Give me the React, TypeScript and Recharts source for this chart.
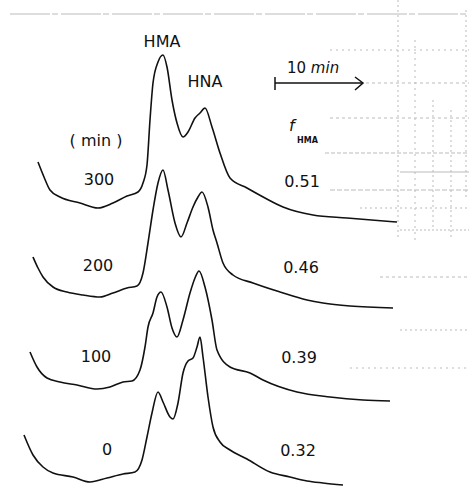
import React from "react";
import { LineChart, Line, XAxis, YAxis } from "recharts";

// Chromatogram traces: [retention position, detector depth]
const run300: [number, number][] = [
  [38,162],[44,177],[50,190],[60,197],[80,203],[98,208],[113,203],[127,196],[138,192],[143,183],
  [147,165],[150,120],[153,83],[158,62],[163,55],[167,67],[172,100],[177,123],[183,137],[188,132],
  [195,118],[200,113],[205,108],[212,127],[220,153],[230,178],[247,188],[265,198],[283,207],[313,215],
  [347,218],[397,222],
];
const run200: [number, number][] = [
  [33,257],[38,268],[43,277],[53,287],[67,292],[83,295],[100,297],[113,293],[127,288],[137,286],
  [143,273],[148,243],[153,210],[158,183],[163,170],[168,190],[175,223],[181,237],[187,223],[193,207],
  [198,197],[202,192],[208,207],[213,230],[217,243],[223,263],[233,275],[253,283],[280,292],[307,300],
  [323,303],[350,306],[393,308],
];
const run100: [number, number][] = [
  [30,352],[37,367],[47,378],[60,382],[77,385],[97,389],[110,387],[123,382],[132,381],[140,370],
  [145,347],[148,327],[153,313],[157,297],[161,292],[167,307],[172,328],[177,337],[183,320],[190,293],
  [195,278],[199,271],[205,287],[212,320],[217,350],[230,367],[250,373],[263,380],[297,392],[330,397],
  [363,400],[390,401],
];
const run0: [number, number][] = [
  [24,435],[33,455],[43,467],[53,473],[73,477],[90,482],[107,478],[123,474],[135,472],[142,460],
  [147,437],[152,413],[158,392],[163,402],[170,417],[173,419],[178,403],[183,373],[188,361],[193,358],
  [197,347],[200,337],[203,357],[208,397],[213,427],[220,442],[230,450],[247,459],[270,472],[290,477],
  [307,481],[323,483],[343,485],
];

const runTimes = ["300", "200", "100", "0"];
const fHMA = ["0.51", "0.46", "0.39", "0.32"];
const peakNames = ["HMA", "HNA"];

const toRows = (pts: [number, number][]) => pts.map(([x, y]) => ({ x, y }));
const series = [run300, run200, run100, run0].map(toRows);

const W = 469;
const H = 486;
const FONT = "'DejaVu Sans', sans-serif";

const runLabelPos = [
  { x: 99, y: 185 },
  { x: 98, y: 271 },
  { x: 96, y: 362 },
  { x: 107, y: 455 },
];
const fLabelPos = [
  { x: 302, y: 187 },
  { x: 301, y: 273 },
  { x: 299, y: 363 },
  { x: 298, y: 456 },
];

export default function App() {
  return (
    <div style={{ position: "absolute", left: 0, top: 0, width: W, height: H, background: "#fff" }}>
      <svg width={W} height={H} style={{ position: "absolute", left: 0, top: 0 }}>
        {/* faint scan artifacts */}
        <g stroke="#bbb" strokeWidth={1} fill="none">
          <line x1={10} y1={14} x2={469} y2={14} strokeDasharray="40 2 6 3" />
          <line x1={330} y1={50} x2={469} y2={50} strokeDasharray="2 4" />
          <line x1={360} y1={83} x2={469} y2={83} strokeDasharray="3 3" />
          <line x1={330} y1={118} x2={469} y2={118} strokeDasharray="3 3" />
          <line x1={325} y1={153} x2={469} y2={153} strokeDasharray="4 2" />
          <line x1={400} y1={172} x2={469} y2={172} />
          <line x1={330} y1={190} x2={469} y2={190} strokeDasharray="5 2" />
          <line x1={360} y1={208} x2={469} y2={208} strokeDasharray="2 3" />
          <line x1={400} y1={230} x2={469} y2={230} strokeDasharray="2 2" />
          <line x1={380} y1={277} x2={469} y2={277} strokeDasharray="3 3" />
          <line x1={400} y1={330} x2={469} y2={330} strokeDasharray="2 3" />
          <line x1={350} y1={368} x2={469} y2={368} strokeDasharray="2 4" />
          <line x1={398} y1={0} x2={398} y2={240} strokeDasharray="2 3" />
          <line x1={415} y1={40} x2={415} y2={240} strokeDasharray="2 4" />
          <line x1={433} y1={100} x2={433} y2={230} strokeDasharray="2 3" />
          <line x1={451} y1={110} x2={451} y2={240} strokeDasharray="2 3" />
          <line x1={466} y1={10} x2={466} y2={200} strokeDasharray="2 3" />
        </g>
      </svg>
      <div style={{ position: "absolute", left: 0, top: 0 }}>
        <LineChart width={W} height={H} margin={{ top: 0, right: 0, bottom: 0, left: 0 }}>
          <XAxis type="number" dataKey="x" domain={[0, W]} hide allowDataOverflow />
          <YAxis type="number" dataKey="y" domain={[0, H]} reversed hide allowDataOverflow />
          {series.map((d, i) => (
            <Line
              key={i}
              data={d}
              dataKey="y"
              type="monotone"
              stroke="#111"
              strokeWidth={1.6}
              dot={false}
              activeDot={false}
              isAnimationActive={false}
            />
          ))}
        </LineChart>
      </div>
      <svg width={W} height={H} style={{ position: "absolute", left: 0, top: 0, pointerEvents: "none" }}>
        <g fontFamily={FONT} fill="#111" fontSize={16}>
          <text x={162} y={47} textAnchor="middle">{peakNames[0]}</text>
          <text x={205} y={87} textAnchor="middle">{peakNames[1]}</text>
          <text x={96} y={146} textAnchor="middle">( min )</text>
          <text x={287} y={73} fontSize={15}>
            10 <tspan fontStyle="italic">min</tspan>
          </text>
          <text x={289} y={131} fontStyle="italic" fontSize={16}>f</text>
          <text x={297} y={143} fontSize={8} fontWeight="bold">HMA</text>
          {runTimes.map((t, i) => (
            <text key={"t" + i} x={runLabelPos[i].x} y={runLabelPos[i].y} textAnchor="middle">{t}</text>
          ))}
          {fHMA.map((f, i) => (
            <text key={"f" + i} x={fLabelPos[i].x} y={fLabelPos[i].y} textAnchor="middle">{f}</text>
          ))}
        </g>
        <g stroke="#111" strokeWidth={1.5} fill="none">
          <line x1={275} y1={83} x2={363} y2={83} />
          <line x1={275} y1={77} x2={275} y2={90} />
          <polyline points="355,77 363,83 355,90" />
        </g>
      </svg>
    </div>
  );
}
